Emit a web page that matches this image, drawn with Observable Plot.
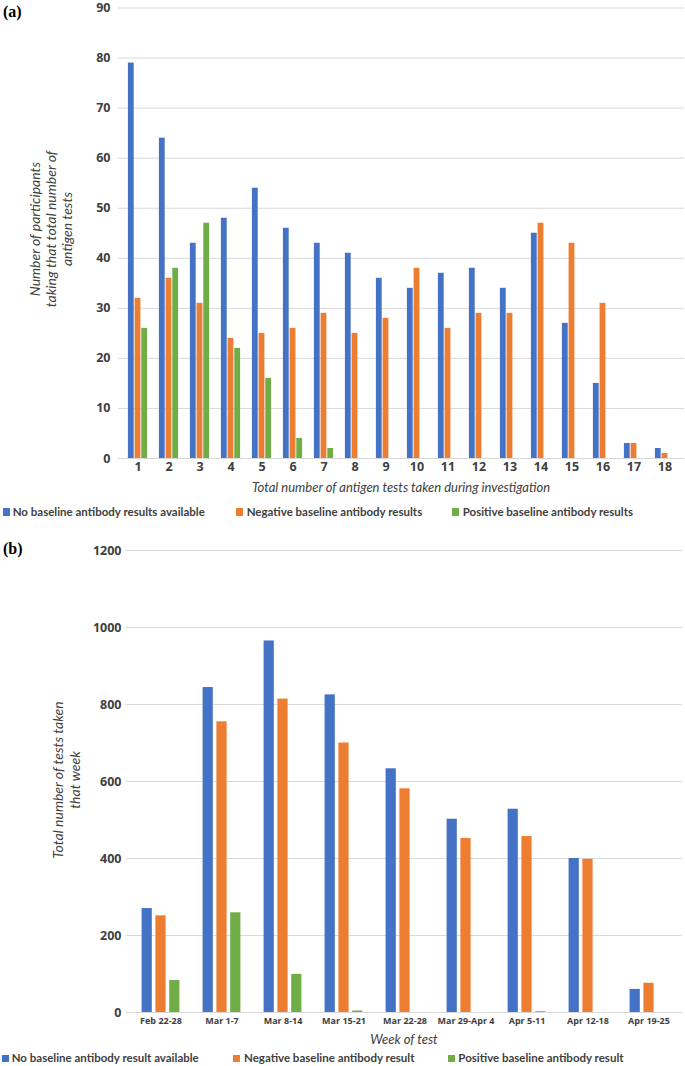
<!DOCTYPE html>
<html><head><meta charset="utf-8">
<script src="https://cdn.jsdelivr.net/npm/d3@7"></script>
<script src="https://cdn.jsdelivr.net/npm/@observablehq/plot@0.6"></script>
<style>
body{margin:0;background:#fff;}
#root{position:relative;width:685px;height:1066px;overflow:hidden;font-family:Lato,"Open Sans",sans-serif;color:#404040;}
.abs{position:absolute;white-space:nowrap;}
.panel{font-family:"Liberation Serif","DejaVu Serif",serif;font-weight:bold;font-size:16px;color:#000;line-height:18px;}
.ytitle{font-style:italic;font-size:14px;line-height:16px;height:16px;width:300px;text-align:center;transform:rotate(-90deg);transform-origin:center center;}
.xtitle{font-style:italic;font-size:13px;text-align:center;line-height:16px;}
.leg{font-size:11.5px;font-weight:700;line-height:14px;}
.sw{position:absolute;width:7px;height:8px;}
</style></head>
<body><div id="root"></div>
<script>
// ---- Panel (a) data ----
const testsA = ["1","2","3","4","5","6","7","8","9","10","11","12","13","14","15","16","17","18"];
const noBaselineA = [79,64,43,48,54,46,43,41,36,34,37,38,34,45,27,15,3,2];
const negativeA   = [32,36,31,24,25,26,29,25,28,38,26,29,29,47,43,31,3,1];
const positiveA   = [26,38,47,22,16,4,2,0,0,0,0,0,0,0,0,0,0,0];
const yTicksA = [0,10,20,30,40,50,60,70,80,90];
const yTitleA = ["Number of participants","taking that total number of","antigen tests"];
const legendA = ["No baseline antibody results available","Negative baseline antibody results","Positive baseline antibody results"];

// ---- Panel (b) data ----
const weeksB = ["Feb 22-28","Mar 1-7","Mar 8-14","Mar 15-21","Mar 22-28","Mar 29-Apr 4","Apr 5-11","Apr 12-18","Apr 19-25"];
const noBaselineB = [270,844,965,825,633,502,528,400,60];
const negativeB   = [251,755,814,700,581,452,457,398,76];
const positiveB   = [83,259,99,4,0,0,2,0,0];
const yTicksB = [0,200,400,600,800,1000,1200];
const yTitleB = ["Total number of tests taken","that week"];
const legendB = ["No baseline antibody result available","Negative baseline antibody result","Positive baseline antibody result"];

const colors = ["#4472C4","#ED7D31","#70AD47"];
const root = document.getElementById("root");

function add(html, cls, style){
  const d = document.createElement("div");
  d.className = "abs " + (cls||"");
  d.textContent = html;
  Object.assign(d.style, style);
  root.appendChild(d);
  return d;
}
function rotLine(text, cx, cy){
  add(text, "ytitle", {left:(cx-150)+"px", top:(cy-8)+"px"});
}

function chart(cats, series, yTicks, cfg){
  const marks = [
    Plot.gridY(yTicks, {stroke:"#d9d9d9", strokeOpacity:1, strokeWidth:1})
  ];
  series.forEach((vals, k) => {
    marks.push(Plot.barY(cats, {
      x: d => d, y: (d,i) => vals[i], fill: colors[k],
      insetLeft: cfg.inset, insetRight: cfg.inset, dx: (k-1)*cfg.shift
    }));
  });
  marks.push(Plot.axisY(yTicks, {tickSize:0, tickPadding:cfg.yPad, fontSize:cfg.yFont, fontWeight:700, fill:"#404040", label:null, tickFormat:d => String(d)}));
  marks.push(Plot.axisX({tickSize:0, tickPadding:cfg.xPad, fontSize:cfg.xFont, fontWeight:700, fill:"#404040", label:null}));
  return Plot.plot({
    width:685, height:cfg.height,
    marginLeft:cfg.ml, marginRight:cfg.mr, marginTop:cfg.mt, marginBottom:cfg.mb,
    style:{fontFamily:"'Open Sans',sans-serif", background:"transparent", overflow:"visible"},
    x:{type:"band", domain:cats, padding:0, label:null},
    y:{domain:[yTicks[0], yTicks[yTicks.length-1]], label:null},
    marks
  });
}

// Panel (a)
const svgA = chart(testsA, [noBaselineA, negativeA, positiveA], yTicksA,
  {height:478, ml:118, mr:1, mt:7.5, mb:20, inset:12.6, shift:6.7, yPad:8, xPad:4, yFont:12.5, xFont:12.5});
const wrapA = add("", "", {left:"0px", top:"0px"});
wrapA.appendChild(svgA);

add("(a)", "panel", {left:"3px", top:"3px"});
yTitleA.forEach((t,i) => rotLine(t, 35 + 16*i, 229));
add("Total number of antigen tests taken during investigation", "xtitle",
  {left:"118px", width:"566px", top:"479px"});

const legAx = [[3,12.7],[236,246.7],[451.7,462.7]];
legendA.forEach((t,k)=>{
  add("", "sw", {left:legAx[k][0]+"px", top:"508px", width:"7px", height:"8px", background:colors[k]});
  add(t, "leg", {left:legAx[k][1]+"px", top:"505px"});
});

// Panel (b)
const svgB = chart(weeksB, [noBaselineB, negativeB, positiveB], yTicksB,
  {height:492, ml:126, mr:3, mt:10, mb:20, inset:25.4, shift:13.8, yPad:5, xPad:5, yFont:12.5, xFont:9});
const wrapB = add("", "", {left:"0px", top:"540px"});
wrapB.appendChild(svgB);

add("(b)", "panel", {left:"3px", top:"540px"});
yTitleB.forEach((t,i) => rotLine(t, 58 + 17*i, 780));
add("Week of test", "xtitle", {left:"126px", width:"556px", top:"1031px"});

const legBx = [[1.7,11.7],[233.3,244],[448.3,458.3]];
legendB.forEach((t,k)=>{
  add("", "sw", {left:legBx[k][0]+"px", top:"1055px", width:"7px", height:"7px", background:colors[k]});
  add(t, "leg", {left:legBx[k][1]+"px", top:"1051px"});
});
</script>
</body></html>
